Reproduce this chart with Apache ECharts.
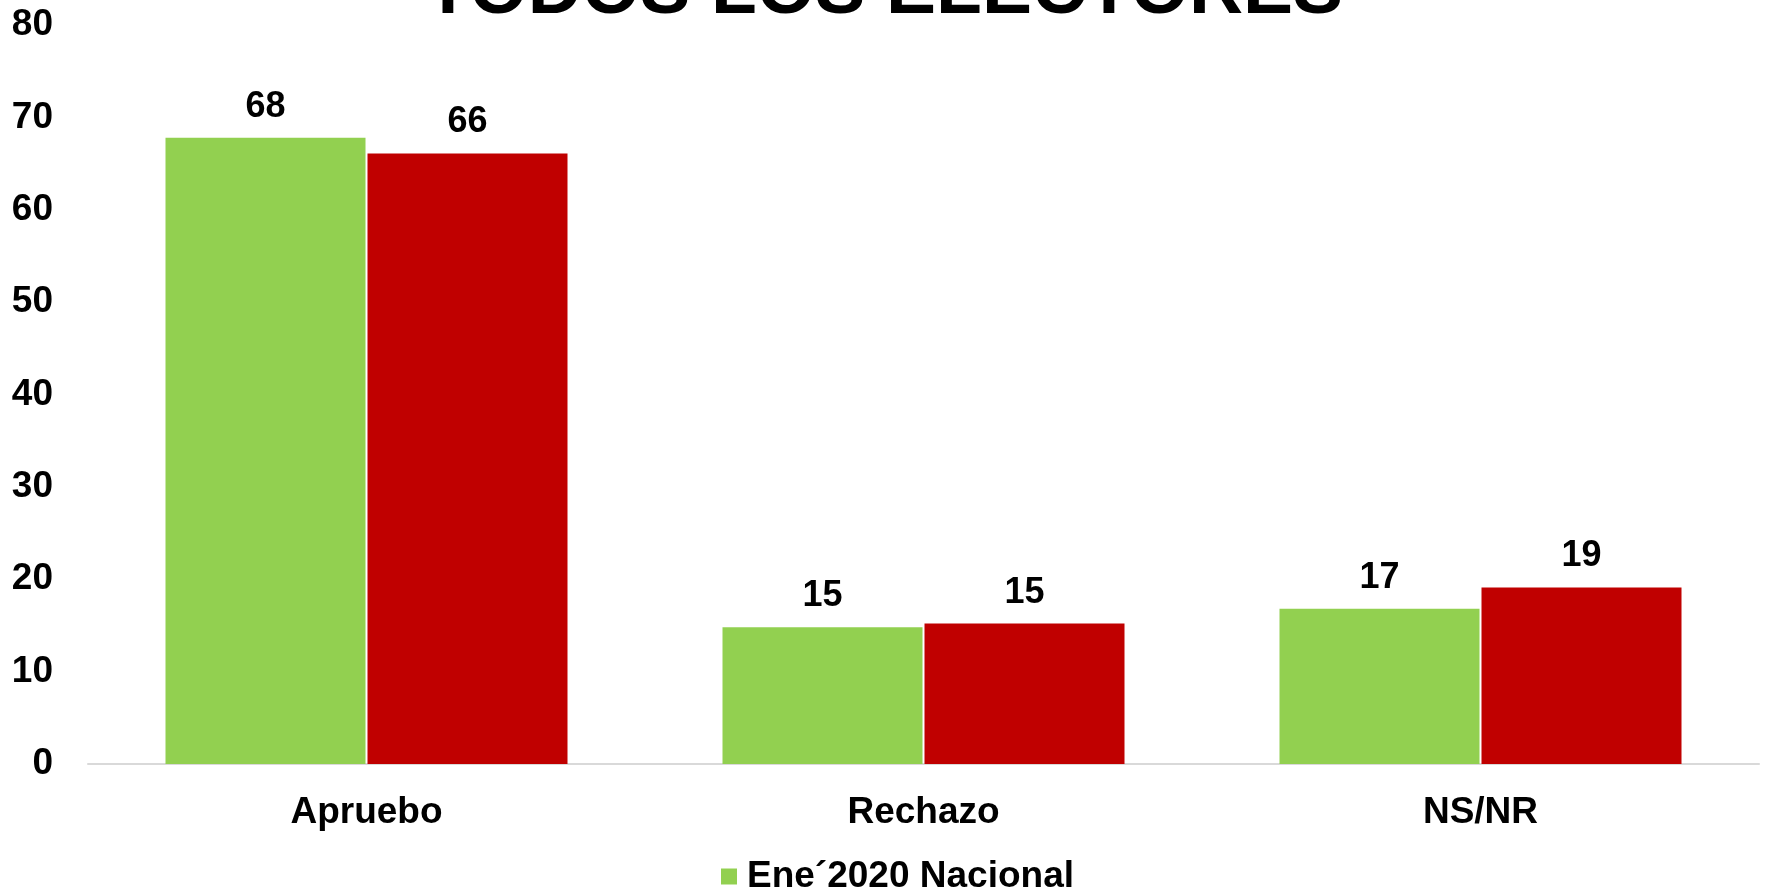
<!DOCTYPE html>
<html>
<head>
<meta charset="utf-8">
<title>TODOS LOS ELECTORES</title>
<script src="https://cdn.jsdelivr.net/npm/echarts@6/dist/echarts.min.js"></script>
<style>
  html, body { margin: 0; padding: 0; background: #ffffff; }
  #chart { width: 1768px; height: 889px; }
</style>
</head>
<body>
<div id="chart"></div>
<script>
// ---- data ----
const titleText = 'TODOS LOS ELECTORES';
const categories = ['Apruebo', 'Rechazo', 'NS/NR'];
const seriesNames = ['Ene\u00b42020 Nacional', 'Serie 2'];
const seriesGreen = [67.8, 14.8, 16.8];
const seriesRed = [66.1, 15.2, 19.1];
const yTicks = [0, 10, 20, 30, 40, 50, 60, 70, 80];
const legendShown = ['Ene\u00b42020 Nacional'];

const FONT = '"Liberation Sans", Arial, sans-serif';
const chart = echarts.init(document.getElementById('chart'));

const labelStyle = {
  show: true,
  position: 'top',
  distance: 13,
  fontFamily: FONT,
  fontWeight: 'bold',
  fontSize: 36,
  color: '#000000',
  formatter: p => Math.round(p.value)
};

chart.setOption({
  animation: false,
  backgroundColor: '#ffffff',
  title: {
    text: titleText,
    left: 'center',
    top: -50,
    textStyle: { fontFamily: FONT, fontWeight: 'bold', fontSize: 75, color: '#000000' }
  },
  legend: {
    data: legendShown,
    left: 721,
    top: 858,
    padding: 0,
    icon: 'rect',
    itemWidth: 16,
    itemHeight: 16,
    itemGap: 10,
    textStyle: { fontFamily: FONT, fontWeight: 'bold', fontSize: 37, color: '#000000', padding: [0, 0, 0, 5] }
  },
  grid: { left: 88, right: 9, top: 25, bottom: 125, containLabel: false },
  xAxis: {
    type: 'category',
    data: categories,
    axisLine: { show: true, lineStyle: { color: '#d9d9d9', width: 2 } },
    axisTick: { show: false },
    axisLabel: { margin: 30, fontFamily: FONT, fontWeight: 'bold', fontSize: 37, color: '#000000' },
    splitLine: { show: false }
  },
  yAxis: {
    type: 'value',
    min: yTicks[0],
    max: yTicks[yTicks.length - 1],
    interval: yTicks[1] - yTicks[0],
    axisLine: { show: false },
    axisTick: { show: false },
    splitLine: { show: false },
    axisLabel: { margin: 35, padding: [7, 0, 0, 0], fontFamily: FONT, fontWeight: 'bold', fontSize: 37, color: '#000000' }
  },
  series: [
    {
      name: seriesNames[0],
      type: 'bar',
      data: seriesGreen,
      barWidth: 200,
      barGap: '1%',
      itemStyle: { color: '#92D050' },
      label: labelStyle
    },
    {
      name: seriesNames[1],
      type: 'bar',
      data: seriesRed,
      barWidth: 200,
      barGap: '1%',
      itemStyle: { color: '#C00000' },
      label: labelStyle
    }
  ]
});
</script>
</body>
</html>
